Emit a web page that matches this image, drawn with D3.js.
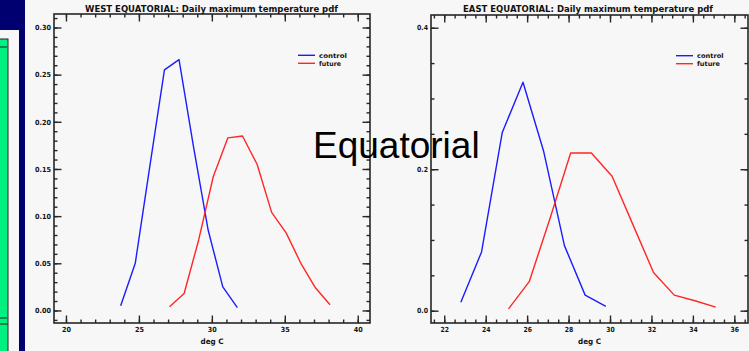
<!DOCTYPE html>
<html><head><meta charset="utf-8">
<script src="https://cdn.jsdelivr.net/npm/d3@7"></script>
<style>html,body{margin:0;padding:0;background:#f7f7f7;}svg{display:block;}</style>
</head><body>
<script>
// ---- data ----
const westControlX = [23.75, 24.75, 25.75, 26.75, 27.75, 28.75, 29.75, 30.75, 31.75];
const westControl  = [0.005, 0.050, 0.153, 0.255, 0.266, 0.173, 0.085, 0.025, 0.003];
const westFutureX  = [27.1, 28.1, 29.1, 30.1, 31.1, 32.1, 33.1, 34.1, 35.1, 36.1, 37.1, 38.1];
const westFuture   = [0.004, 0.018, 0.075, 0.142, 0.183, 0.185, 0.155, 0.104, 0.082, 0.050, 0.024, 0.006];

const eastControlX = [22.8, 23.8, 24.8, 25.8, 26.8, 27.8, 28.8, 29.8];
const eastControl  = [0.012, 0.083, 0.252, 0.323, 0.225, 0.092, 0.022, 0.006];
const eastFutureX  = [25.1, 26.1, 27.1, 28.1, 29.1, 30.1, 31.1, 32.1, 33.1, 34.1, 35.1];
const eastFuture   = [0.0025, 0.041, 0.13, 0.223, 0.223, 0.19, 0.122, 0.054, 0.022, 0.014, 0.005];

const westXTicks = [20, 25, 30, 35, 40];
const westYTicks = [0.00, 0.05, 0.10, 0.15, 0.20, 0.25, 0.30];
const westYLabels = ["0.00", "0.05", "0.10", "0.15", "0.20", "0.25", "0.30"];
const eastXTicks = [22, 24, 26, 28, 30, 32, 34, 36];
const eastYTicks = [0.0, 0.2, 0.4];
const eastYLabels = ["0.0", "0.2", "0.4"];
const seriesNames = ["control", "future"];
const titles = ["WEST EQUATORIAL: Daily maximum temperature pdf", "EAST EQUATORIAL: Daily maximum temperature pdf"];
const xTitle = "deg C";
const overlayText = "Equatorial";

const W = 749, H = 351;
const svg = d3.select("body").append("svg").attr("width", W).attr("height", H);
svg.append("rect").attr("width", W).attr("height", H).attr("fill", "#f7f7f7");

// left strip decoration
svg.append("rect").attr("x", 0).attr("y", 0).attr("width", 25).attr("height", 30).attr("fill", "#000070");
svg.append("rect").attr("x", 19).attr("y", 30).attr("width", 6).attr("height", H - 30).attr("fill", "#000070");
svg.append("rect").attr("x", -2).attr("y", 39).attr("width", 10).attr("height", H).attr("fill", "#00f082").attr("stroke", "#222").attr("stroke-width", 1);
[47, 318].forEach(yy => svg.append("line").attr("x1", 0).attr("x2", 7).attr("y1", yy).attr("y2", yy).attr("stroke", "#222").attr("stroke-width", 1));
svg.append("line").attr("x1", 0).attr("x2", 8).attr("y1", 324).attr("y2", 324).attr("stroke", "#222").attr("stroke-width", 1);

const FONT = "'DejaVu Sans', sans-serif";
const BLUE = "#1c1cff", RED = "#ff2626", AX = "#262626";

function range(a, b, s) { const r = []; for (let v = a; v <= b + 1e-9; v += s) r.push(+v.toFixed(4)); return r; }

function panel(cfg) {
  const g = svg.append("g");
  const x = d3.scaleLinear().domain(cfg.xDomain).range([cfg.left, cfg.right]);
  const y = d3.scaleLinear().domain(cfg.yDomain).range([cfg.bottom, cfg.top]);

  const styleAxis = (sel) => {
    sel.select(".domain").remove();
    sel.selectAll("line").attr("stroke", AX).attr("stroke-width", 1.4);
    sel.selectAll("text").attr("font-family", FONT).attr("font-weight", "bold").attr("fill", "#111");
  };
  // minor ticks
  const add = (axis, tx) => g.append("g").attr("transform", tx).call(axis).call(styleAxis);
  add(d3.axisLeft(y).tickValues(cfg.yMinor).tickSize(-3.5).tickFormat(""), `translate(${cfg.left},0)`);
  add(d3.axisRight(y).tickValues(cfg.yMinor).tickSize(-3.5).tickFormat(""), `translate(${cfg.right},0)`);
  add(d3.axisBottom(x).tickValues(cfg.xMinor).tickSize(-3.5).tickFormat(""), `translate(0,${cfg.bottom})`);
  add(d3.axisTop(x).tickValues(cfg.xMinor).tickSize(-3.5).tickFormat(""), `translate(0,${cfg.top})`);
  // major ticks
  const ya = add(d3.axisLeft(y).tickValues(cfg.yTicks).tickSize(-7.5).tickPadding(3)
      .tickFormat((d, i) => cfg.yLabels[i]), `translate(${cfg.left},0)`);
  ya.selectAll("text").attr("font-size", 7).attr("textLength", cfg.yLabW).attr("lengthAdjust", "spacingAndGlyphs");
  add(d3.axisRight(y).tickValues(cfg.yTicks).tickSize(-7.5).tickFormat(""), `translate(${cfg.right},0)`);
  const xa = add(d3.axisBottom(x).tickValues(cfg.xTicks).tickSize(-7.5).tickPadding(4)
      .tickFormat(d => String(d)), `translate(0,${cfg.bottom})`);
  xa.selectAll("text").attr("font-size", 7).attr("textLength", cfg.xLabW).attr("lengthAdjust", "spacingAndGlyphs");
  add(d3.axisTop(x).tickValues(cfg.xTicks).tickSize(-7.5).tickFormat(""), `translate(0,${cfg.top})`);

  // box
  g.append("rect").attr("x", cfg.left).attr("y", cfg.top)
    .attr("width", cfg.right - cfg.left).attr("height", cfg.bottom - cfg.top)
    .attr("fill", "none").attr("stroke", AX).attr("stroke-width", 1.6);

  // title & axis title
  g.append("text").attr("x", cfg.titleX).attr("y", 11.5).attr("text-anchor", "middle")
    .attr("font-family", FONT).attr("font-weight", "bold").attr("font-size", 8.5).attr("fill", "#111")
    .attr("textLength", cfg.titleW).attr("lengthAdjust", "spacingAndGlyphs").text(cfg.title);
  g.append("text").attr("x", (cfg.left + cfg.right) / 2).attr("y", 344).attr("text-anchor", "middle")
    .attr("font-family", FONT).attr("font-weight", "bold").attr("font-size", 7.5).attr("fill", "#111")
    .attr("textLength", 23).attr("lengthAdjust", "spacingAndGlyphs").text(xTitle);

  // curves
  const line = d3.line().x(d => x(d[0])).y(d => y(d[1]));
  const series = [
    { xs: cfg.cx, ys: cfg.cy, color: BLUE },
    { xs: cfg.fx, ys: cfg.fy, color: RED }
  ];
  series.forEach(s => {
    g.append("path").datum(s.xs.map((v, i) => [v, s.ys[i]]))
      .attr("d", line).attr("fill", "none").attr("stroke", s.color).attr("stroke-width", 1.4)
      .attr("stroke-linejoin", "round");
  });

  // legend
  seriesNames.forEach((nm, i) => {
    const ly = cfg.legY + i * 8;
    g.append("line").attr("x1", cfg.legX).attr("x2", cfg.legX + 17).attr("y1", ly).attr("y2", ly)
      .attr("stroke", i === 0 ? BLUE : RED).attr("stroke-width", 1.4);
    g.append("text").attr("x", cfg.legX + 21).attr("y", ly + 2.5)
      .attr("font-family", FONT).attr("font-weight", "bold").attr("font-size", 6.5).attr("fill", "#111")
      .attr("textLength", cfg.legW[i]).attr("lengthAdjust", "spacingAndGlyphs").text(nm);
  });
}

panel({
  left: 54, right: 370, top: 14, bottom: 323,
  xDomain: [19.18, 40.84], yDomain: [-0.0133, 0.3143],
  xTicks: westXTicks, xMinor: range(20, 40, 1),
  yTicks: westYTicks, yLabels: westYLabels, yMinor: range(-0.01, 0.31, 0.01),
  yLabW: 16, xLabW: 9,
  title: titles[0], titleX: 211.5, titleW: 253,
  cx: westControlX, cy: westControl, fx: westFutureX, fy: westFuture,
  legX: 298, legY: 55.3, legW: [28, 22]
});
panel({
  left: 431, right: 748, top: 15, bottom: 323,
  xDomain: [21.36, 36.66], yDomain: [-0.0174, 0.418],
  xTicks: eastXTicks, xMinor: range(21.5, 36.5, 0.5),
  yTicks: eastYTicks, yLabels: eastYLabels, yMinor: range(0, 0.4, 0.05),
  yLabW: 11, xLabW: 8.5,
  title: titles[1], titleX: 588, titleW: 250,
  cx: eastControlX, cy: eastControl, fx: eastFutureX, fy: eastFuture,
  legX: 676, legY: 55.7, legW: [26.5, 23]
});

svg.append("text").attr("x", 313).attr("y", 158).attr("font-family", "'Liberation Sans', Arial, sans-serif")
  .attr("font-size", 37).attr("fill", "#000").text(overlayText);
</script>
</body></html>
